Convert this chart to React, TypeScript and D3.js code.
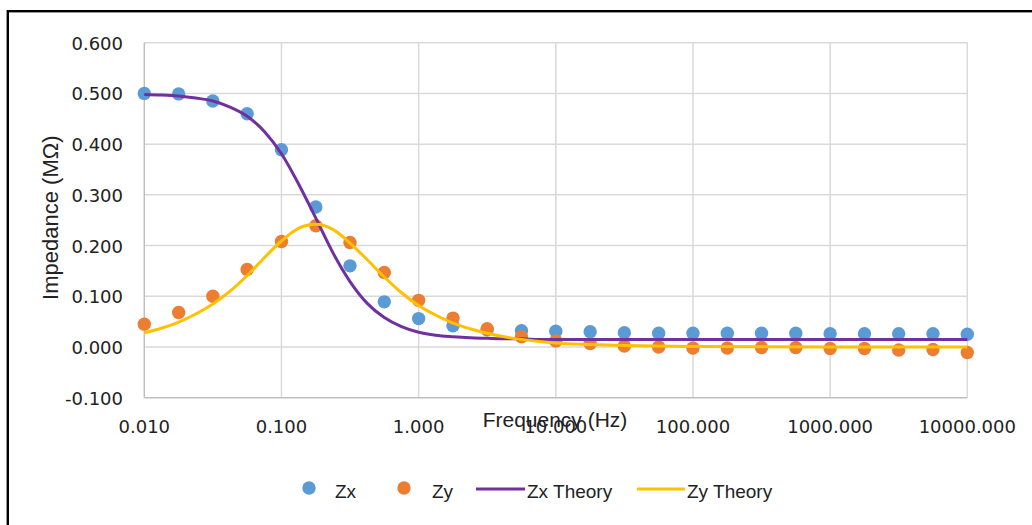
import React from 'react';
import * as d3 from 'd3';

// measured frequencies (Hz), 4 per decade
const freq = [0.01, 0.0178, 0.0316, 0.0562, 0.1, 0.178, 0.316, 0.562, 1, 1.78, 3.16, 5.62, 10, 17.8, 31.6, 56.2, 100, 178, 316, 562, 1000, 1780, 3160, 5620, 10000];
const zx = [0.5, 0.499, 0.485, 0.46, 0.389, 0.276, 0.16, 0.089, 0.056, 0.042, 0.034, 0.032, 0.031, 0.03, 0.028, 0.027, 0.027, 0.027, 0.027, 0.027, 0.026, 0.026, 0.026, 0.026, 0.025];
const zy = [0.045, 0.068, 0.1, 0.153, 0.208, 0.239, 0.206, 0.147, 0.092, 0.057, 0.036, 0.02, 0.012, 0.007, 0.002, 0.0, -0.002, -0.002, -0.001, -0.001, -0.003, -0.003, -0.006, -0.005, -0.011];

// theory curves
const freqTheory = [0.01, 0.0133, 0.0178, 0.0237, 0.0316, 0.0422, 0.0562, 0.075, 0.1, 0.133, 0.178, 0.237, 0.316, 0.422, 0.562, 0.75, 1, 1.33, 1.78, 2.37, 3.16, 4.22, 5.62, 7.5, 10, 17.8, 31.6, 100, 1000, 10000];
const zxTheory = [0.498, 0.497, 0.495, 0.491, 0.485, 0.473, 0.455, 0.425, 0.381, 0.322, 0.254, 0.186, 0.129, 0.086, 0.058, 0.04, 0.029, 0.023, 0.02, 0.018, 0.017, 0.016, 0.016, 0.015, 0.015, 0.015, 0.015, 0.015, 0.015, 0.015];
const zyTheory = [0.028, 0.037, 0.049, 0.065, 0.085, 0.11, 0.141, 0.176, 0.209, 0.234, 0.242, 0.232, 0.205, 0.172, 0.138, 0.107, 0.082, 0.063, 0.047, 0.036, 0.027, 0.02, 0.015, 0.011, 0.008, 0.005, 0.003, 0.001, 0.0, 0.0];

const xTicks = [0.01, 0.1, 1, 10, 100, 1000, 10000];
const yTicks = [-0.1, 0, 0.1, 0.2, 0.3, 0.4, 0.5, 0.6];

const BLUE = '#5B9BD5';
const ORANGE = '#ED7D31';
const PURPLE = '#7030A0';
const GOLD = '#FFC000';

export default function App() {
  const width = 1032;
  const height = 525;
  const x = d3.scaleLog().domain([0.01, 10000]).range([144.3, 967.3]);
  const y = d3.scaleLinear().domain([-0.1, 0.6]).range([397.7, 42.7]);

  const line = d3.line<[number, number]>()
    .x(d => x(d[0]))
    .y(d => y(d[1]))
    .curve(d3.curveMonotoneX);

  const zxLine = line(freqTheory.map((f, i) => [f, zxTheory[i]]));
  const zyLine = line(freqTheory.map((f, i) => [f, zyTheory[i]]));

  const tickFont = '"DejaVu Sans", sans-serif';
  const labelFont = '"Liberation Sans", Arial, sans-serif';
  const textColor = '#222';

  return (
    <svg width={width} height={height} style={{ position: 'absolute', left: 0, top: 0, background: '#fff' }}>
      <rect x={0} y={0} width={width} height={height} fill="#fff" />
      {/* outer frame (cut off on right and bottom) */}
      <rect x={7.8} y={11.2} width={1040} height={530} fill="none" stroke="#000" strokeWidth={2.4} />

      {/* gridlines */}
      <g stroke="#D9D9D9" strokeWidth={1.5}>
        {yTicks.filter(t => t > -0.1).map(t => (
          <line key={'h' + t} x1={x(0.01)} x2={x(10000)} y1={y(t)} y2={y(t)} />
        ))}
        {xTicks.filter(t => t > 0.01).map(t => (
          <line key={'v' + t} x1={x(t)} x2={x(t)} y1={y(0.6)} y2={y(-0.1)} />
        ))}
      </g>
      {/* axis lines */}
      <g stroke="#BFBFBF" strokeWidth={1.5}>
        <line x1={x(0.01)} x2={x(0.01)} y1={y(0.6)} y2={y(-0.1)} />
        <line x1={x(0.01)} x2={x(10000)} y1={y(-0.1)} y2={y(-0.1)} />
      </g>

      {/* y tick labels */}
      <g fontFamily={tickFont} fontSize={18} fill={textColor} textAnchor="end">
        {yTicks.map(t => (
          <text key={'yl' + t} x={123} y={y(t) + 7}>{t.toFixed(3)}</text>
        ))}
      </g>
      {/* x tick labels */}
      <g fontFamily={tickFont} fontSize={18} fill={textColor} textAnchor="middle">
        {xTicks.map(t => (
          <text key={'xl' + t} x={x(t)} y={433}>{t.toFixed(3)}</text>
        ))}
      </g>

      {/* axis titles */}
      <text x={555} y={426.5} fontFamily={labelFont} fontSize={21} fill={textColor} textAnchor="middle">Frequency (Hz)</text>
      <text transform="translate(57.5,217.7) rotate(-90)" fontFamily={labelFont} fontSize={22} fill={textColor} textAnchor="middle">Impedance (MΩ)</text>

      {/* markers */}
      <g fill={BLUE}>
        {freq.map((f, i) => <circle key={'zx' + i} cx={x(f)} cy={y(zx[i])} r={6.7} />)}
      </g>
      <g fill={ORANGE}>
        {freq.map((f, i) => <circle key={'zy' + i} cx={x(f)} cy={y(zy[i])} r={6.7} />)}
      </g>

      {/* theory lines */}
      <path d={zxLine || ''} fill="none" stroke={PURPLE} strokeWidth={3} />
      <path d={zyLine || ''} fill="none" stroke={GOLD} strokeWidth={3} />

      {/* legend */}
      <g fontFamily={labelFont} fontSize={19} fill={textColor}>
        <circle cx={309} cy={488} r={6.7} fill={BLUE} />
        <text x={335} y={498}>Zx</text>
        <circle cx={404} cy={488} r={6.7} fill={ORANGE} />
        <text x={432} y={498}>Zy</text>
        <line x1={476} x2={525} y1={489} y2={489} stroke={PURPLE} strokeWidth={3} />
        <text x={527} y={498}>Zx Theory</text>
        <line x1={637} x2={685} y1={489} y2={489} stroke={GOLD} strokeWidth={3} />
        <text x={687} y={498}>Zy Theory</text>
      </g>
    </svg>
  );
}
